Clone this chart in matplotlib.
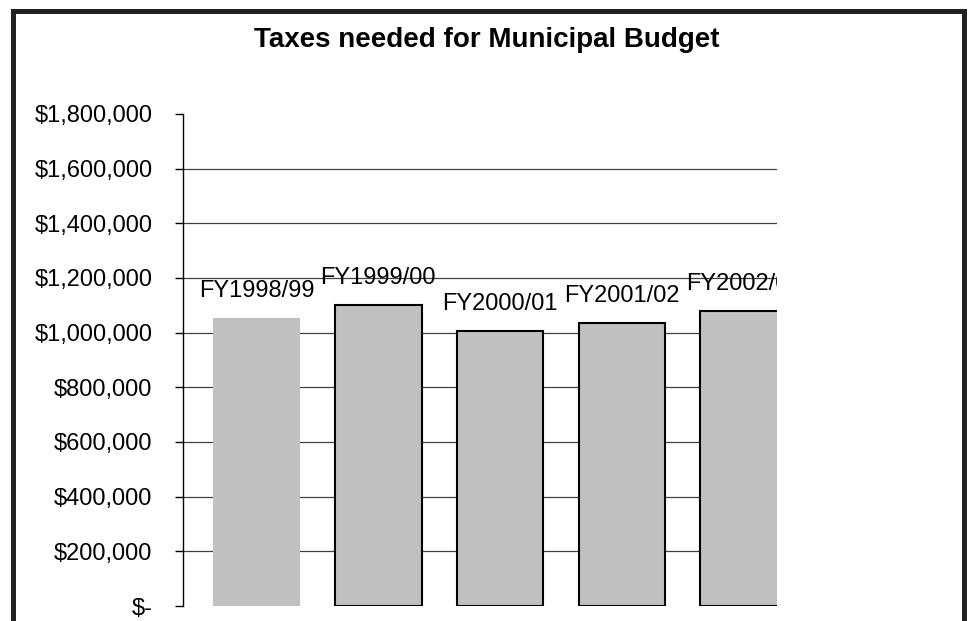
import matplotlib
matplotlib.use("Agg")
import matplotlib.pyplot as plt
from matplotlib.lines import Line2D
from matplotlib.ticker import FuncFormatter
from matplotlib.transforms import offset_copy

# ── Data ──────────────────────────────────────────────────────────────────────
years = ["FY1998/99", "FY1999/00", "FY2000/01", "FY2001/02", "FY2002/03"]
taxes = [1054000, 1101000, 1007000, 1037000, 1080000]
y_ticks = [0, 200000, 400000, 600000, 800000, 1000000,
           1200000, 1400000, 1600000, 1800000]

plt.rcParams["font.family"] = ["Liberation Sans", "DejaVu Sans"]

fig = plt.figure(figsize=(9.73, 6.21), dpi=100, facecolor="white")
ax = fig.add_axes([0.1881, 0.02415, 0.6105, 0.7923])

x = list(range(len(years)))
bars = ax.bar(x, taxes, width=0.71, color="#c0c0c0",
              edgecolor="black", linewidth=1.5, zorder=2)
# first bar is drawn without an outline
bars[0].set_edgecolor("#c0c0c0")
bars[0].set_linewidth(0)

# gridlines (none at the top tick)
ax.hlines(y_ticks[1:-1], -1, len(years), color="#404040", lw=0.9, zorder=1)

ax.set_xlim(-0.604, 4.275)
ax.set_ylim(y_ticks[0], y_ticks[-1])
ax.set_yticks(y_ticks)
ax.yaxis.set_major_formatter(
    FuncFormatter(lambda v, _: "$-" if v == 0 else f"${v:,.0f}"))
ax.tick_params(axis="y", direction="out", length=6, width=1,
               pad=16, labelsize=17, colors="black")
ax.set_xticks([])
for side in ["top", "right", "bottom"]:
    ax.spines[side].set_visible(False)
ax.spines["left"].set_color("black")
ax.spines["left"].set_linewidth(1)
ax.set_facecolor("white")

# category labels above the bars, clipped to the plot area
lbl_tr = offset_copy(ax.transData, fig=fig, y=15, units="points")
for xi, val, name in zip(x, taxes, years):
    t = ax.text(xi, val, name, transform=lbl_tr, ha="center",
                va="baseline", fontsize=17, clip_on=True)
    t.set_clip_box(ax.bbox)

fig.text(487 / 973, 1 - 40 / 621, "Taxes needed for Municipal Budget",
         ha="center", va="center", fontsize=20, fontweight="bold")

# outer chart frame (left, top, right)
frame = dict(color="#222222", lw=3.6, transform=fig.transFigure,
             solid_capstyle="projecting")
fig.add_artist(Line2D([0.0129, 0.0129], [0, 0.983], **frame))
fig.add_artist(Line2D([0.0129, 0.9912], [0.983, 0.983], **frame))
fig.add_artist(Line2D([0.9912, 0.9912], [0, 0.983], **frame))

fig.savefig("out.png", dpi=100, facecolor="white")
